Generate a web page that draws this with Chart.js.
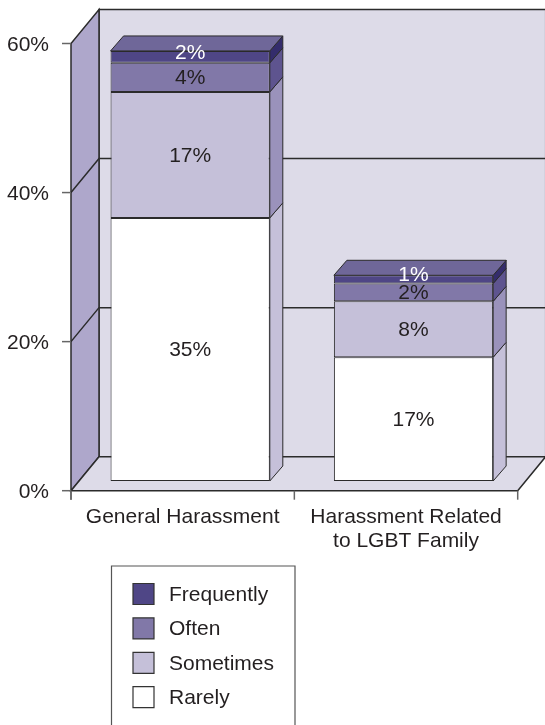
<!DOCTYPE html>
<html lang="en">

<head>
    <meta charset="UTF-8">
    <title>Harassment Frequency</title>
    <script src="https://cdn.jsdelivr.net/npm/chart.js"></script>
    <style>
        body { margin: 0; background: #fff; }
        #wrap { width: 545px; height: 725px; }
    </style>
</head>

<body>
    <div id="wrap"><canvas id="harassmentChart"></canvas></div>

    <script>
        // Data
        const categories = [['General Harassment'], ['Harassment Related', 'to LGBT Family']];
        const seriesNames = ['Rarely', 'Sometimes', 'Often', 'Frequently'];
        const rarely = [35.3, 16.6];
        const sometimes = [16.9, 7.5];
        const often = [3.9, 2.4];
        const frequently = [1.6, 1.1];
        const yTicks = [0, 20, 40, 60];

        // Colours
        const frontColors = ['#ffffff', '#c5c0d9', '#8178a8', '#4f4686'];
        const sideColors = ['#c5c0d9', '#9a92bb', '#5e548f', '#342c6c'];
        const labelColors = ['#231f20', '#231f20', '#231f20', '#ffffff'];
        const topColor = '#6f6799';
        const lineColor = '#2b2b2b';
        const FONT = '21px "Liberation Sans", Arial, sans-serif';

        // 3D offsets
        const WALL_DX = 28, WALL_DY = -34;   // wall depth
        const BAR_SHIFT_X = 7.5, BAR_SHIFT_Y = -9.7; // bar front plane
        const BAR_DX = 13, BAR_DY = -15;     // bar depth

        function poly(ctx, pts, fill, stroke, lw) {
            ctx.beginPath();
            ctx.moveTo(pts[0][0], pts[0][1]);
            for (let i = 1; i < pts.length; i++) ctx.lineTo(pts[i][0], pts[i][1]);
            ctx.closePath();
            if (fill) { ctx.fillStyle = fill; ctx.fill(); }
            if (stroke) { ctx.strokeStyle = stroke; ctx.lineWidth = lw || 1.5; ctx.stroke(); }
        }

        function line(ctx, pts, color, lw) {
            ctx.beginPath();
            ctx.moveTo(pts[0][0], pts[0][1]);
            for (let i = 1; i < pts.length; i++) ctx.lineTo(pts[i][0], pts[i][1]);
            ctx.strokeStyle = color;
            ctx.lineWidth = lw || 1.5;
            ctx.stroke();
        }

        const threeD = {
            id: 'threeD',
            beforeDatasetsDraw(chart) {
                const ctx = chart.ctx;
                const xs = chart.scales.x, ys = chart.scales.y;
                const L = xs.left, R = xs.right;
                const y0 = ys.getPixelForValue(0);
                const yT = ys.getPixelForValue(yTicks[yTicks.length - 1]);

                // walls and floor
                poly(ctx, [[L + WALL_DX, yT + WALL_DY], [R + WALL_DX, yT + WALL_DY], [R + WALL_DX, y0 + WALL_DY], [L + WALL_DX, y0 + WALL_DY]], '#dddbe8', lineColor);
                poly(ctx, [[L, y0], [L, yT], [L + WALL_DX, yT + WALL_DY], [L + WALL_DX, y0 + WALL_DY]], '#aea7cb', lineColor);
                poly(ctx, [[L, y0], [R, y0], [R + WALL_DX, y0 + WALL_DY], [L + WALL_DX, y0 + WALL_DY]], '#dddbe8', lineColor);

                // grid lines
                yTicks.forEach(v => {
                    if (v <= 0 || v >= yTicks[yTicks.length - 1]) return;
                    const py = ys.getPixelForValue(v);
                    line(ctx, [[L, py], [L + WALL_DX, py + WALL_DY], [R + WALL_DX, py + WALL_DY]], lineColor);
                });

                // y ticks and labels
                ctx.font = FONT;
                ctx.fillStyle = '#231f20';
                ctx.textAlign = 'right';
                ctx.textBaseline = 'middle';
                yTicks.forEach(v => {
                    const py = ys.getPixelForValue(v);
                    line(ctx, [[L - 9, py], [L, py]], '#666', 1.5);
                    ctx.fillText(v + '%', L - 22, py + 2);
                });
                line(ctx, [[L, y0], [L, y0 + 9]], '#666', 1.5);

                // x ticks and labels
                ctx.textAlign = 'center';
                const step = (R - L) / categories.length;
                for (let i = 0; i <= categories.length; i++) {
                    line(ctx, [[L + step * i, y0], [L + step * i, y0 + 9]], '#666', 1.5);
                }
                categories.forEach((lab, i) => {
                    const px = xs.getPixelForValue(i);
                    lab.forEach((t, j) => ctx.fillText(t, px, y0 + 27 + j * 24));
                });

                // shift the bar front plane into the depth
                ctx.save();
                ctx.translate(BAR_SHIFT_X, BAR_SHIFT_Y);
            },
            afterDatasetsDraw(chart) {
                const ctx = chart.ctx;
                const n = chart.data.datasets.length;
                chart.data.datasets.forEach((ds, di) => {
                    const meta = chart.getDatasetMeta(di);
                    meta.data.forEach(bar => {
                        const p = bar.getProps(['x', 'y', 'base', 'width'], true);
                        const right = p.x + p.width / 2, left = p.x - p.width / 2;
                        poly(ctx, [[right, p.y], [right + BAR_DX, p.y + BAR_DY], [right + BAR_DX, p.base + BAR_DY], [right, p.base]], sideColors[di], lineColor, 1);
                        if (di === n - 1) {
                            poly(ctx, [[left, p.y], [left + BAR_DX, p.y + BAR_DY], [right + BAR_DX, p.y + BAR_DY], [right, p.y]], topColor, lineColor, 1);
                        }
                    });
                });
                // value labels
                ctx.font = FONT;
                ctx.textAlign = 'center';
                ctx.textBaseline = 'middle';
                chart.data.datasets.forEach((ds, di) => {
                    const meta = chart.getDatasetMeta(di);
                    meta.data.forEach((bar, i) => {
                        const p = bar.getProps(['x', 'y', 'base'], true);
                        const shift = di === n - 1 ? -5 : 0;
                        ctx.fillStyle = labelColors[di];
                        ctx.fillText(Math.round(ds.data[i]) + '%', p.x, (p.y + p.base) / 2 + shift + 1);
                    });
                });
                ctx.restore();
            },
            afterDraw(chart) {
                // legend box
                const ctx = chart.ctx;
                line(ctx, [[111.5, 740], [111.5, 566], [295, 566], [295, 740]], '#555', 1.2);
                ctx.font = FONT;
                ctx.textAlign = 'left';
                ctx.textBaseline = 'middle';
                const order = chart.data.datasets.map((d, i) => i).reverse();
                order.forEach((di, k) => {
                    const cy = 594 + k * 34.4;
                    poly(ctx, [[133, cy - 10.5], [154, cy - 10.5], [154, cy + 10.5], [133, cy + 10.5]], frontColors[di], '#333', 1.2);
                    ctx.fillStyle = '#231f20';
                    ctx.fillText(chart.data.datasets[di].label, 169, cy + 1);
                });
            }
        };

        const seriesValues = [rarely, sometimes, often, frequently];
        const ctx = document.getElementById('harassmentChart').getContext('2d');
        const myChart = new Chart(ctx, {
            type: 'bar',
            data: {
                labels: categories,
                datasets: seriesNames.map((name, i) => ({
                    label: name,
                    data: seriesValues[i],
                    backgroundColor: frontColors[i],
                    borderColor: lineColor,
                    borderWidth: 1,
                    borderSkipped: false,
                    barPercentage: 0.713,
                    categoryPercentage: 1
                }))
            },
            options: {
                responsive: true,
                maintainAspectRatio: false,
                animation: false,
                layout: {
                    padding: { left: 71, right: 27.3, top: 43.5, bottom: 234.3 }
                },
                scales: {
                    x: { stacked: true, display: false },
                    y: { stacked: true, display: false, min: 0, max: 60, ticks: { stepSize: 20 } }
                },
                plugins: {
                    legend: { display: false },
                    tooltip: { enabled: false }
                }
            },
            plugins: [threeD]
        });
    </script>
</body>

</html>
